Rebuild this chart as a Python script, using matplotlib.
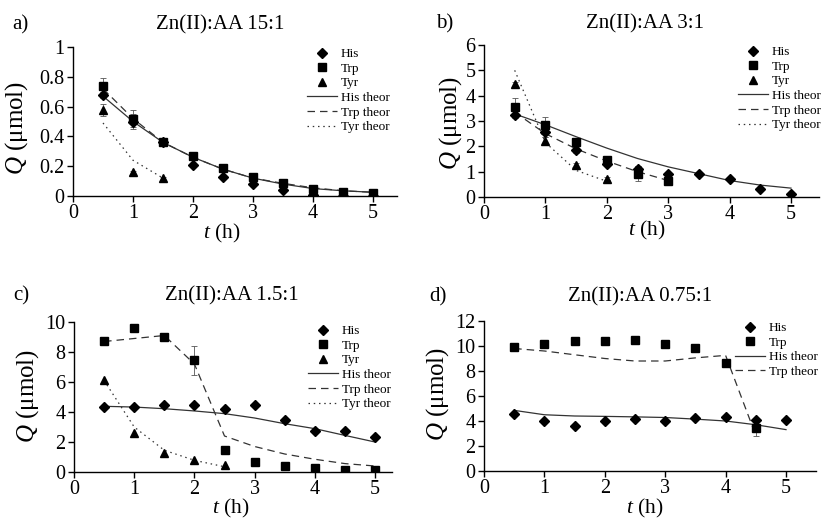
import numpy as np
import matplotlib
matplotlib.use("Agg")
import matplotlib.pyplot as plt

plt.rcParams["font.family"] = ["Liberation Serif", "DejaVu Serif"]
plt.rcParams["mathtext.fontset"] = "custom"
plt.rcParams["mathtext.rm"] = "Liberation Serif"
plt.rcParams["mathtext.it"] = "Liberation Serif:italic"

t = [0.5, 1, 1.5, 2, 2.5, 3, 3.5, 4, 4.5, 5]

# a) Zn(II):AA 15:1
his_a = [0.68, 0.50, 0.36, 0.21, 0.13, 0.08, 0.04, 0.01, 0.0, 0.0]
his_a_err = [0.02, 0.05, 0.01, 0.01, 0.01, 0.01, 0.01, 0.01, 0.0, 0.0]
trp_a = [0.74, 0.52, 0.36, 0.27, 0.19, 0.13, 0.09, 0.05, 0.03, 0.02]
trp_a_err = [0.05, 0.06, 0.01, 0.01, 0.01, 0.01, 0.01, 0.01, 0.01, 0.0]
tyr_a = [0.58, 0.16, 0.12]
tyr_a_err = [0.04, 0.01, 0.01]
his_a_th = [0.67, 0.50, 0.36, 0.26, 0.18, 0.12, 0.08, 0.05, 0.035, 0.025]
trp_a_th = [0.72, 0.52, 0.36, 0.26, 0.18, 0.12, 0.085, 0.055, 0.035, 0.025]
tyr_a_th = [0.49, 0.24, 0.12]

# b) Zn(II):AA 3:1
his_b = [3.23, 2.57, 1.87, 1.32, 1.12, 0.92, 0.90, 0.70, 0.33, 0.13]
his_b_err = [0.1, 0.2, 0.15, 0.1, 0.1, 0.05, 0.05, 0.05, 0.05, 0.05]
trp_b = [3.54, 2.85, 2.18, 1.48, 0.92, 0.62]
trp_b_err = [0.35, 0.3, 0.1, 0.15, 0.3, 0.05]
tyr_b = [4.45, 2.2, 1.25, 0.72]
tyr_b_err = [0.1, 0.15, 0.1, 0.05]
his_b_th = [3.28, 2.85, 2.38, 1.93, 1.52, 1.19, 0.92, 0.65, 0.47, 0.35]
trp_b_th = [3.35, 2.5, 1.9, 1.42, 1.0, 0.65]
tyr_b_th = [5.0, 2.15, 1.05, 0.62]

# c) Zn(II):AA 1.5:1
his_c = [4.33, 4.33, 4.44, 4.44, 4.22, 4.5, 3.49, 2.73, 2.73, 2.33]
trp_c = [8.71, 9.62, 9.0, 7.44, 1.44, 0.67, 0.4, 0.27, 0.16, 0.11]
trp_c_err = [0.1, 0.1, 0.1, 0.95, 0.1, 0.05, 0.05, 0.05, 0.05, 0.05]
tyr_c = [6.16, 2.58, 1.29, 0.78, 0.44]
his_c_th = [4.38, 4.33, 4.22, 4.07, 3.89, 3.6, 3.22, 2.89, 2.44, 2.0]
trp_c_th = [8.7, 8.9, 9.1, 7.2, 2.4, 1.7, 1.2, 0.85, 0.56, 0.4]
tyr_c_th = [6.1, 3.0, 1.45, 0.78, 0.35]

# d) Zn(II):AA 0.75:1
his_d = [4.59, 3.97, 3.57, 4.0, 4.13, 4.03, 4.24, 4.32, 4.05, 4.05]
trp_d = [9.92, 10.19, 10.37, 10.37, 10.5, 10.19, 9.84, 8.67, 3.44]
trp_d_err = [0.1, 0.1, 0.1, 0.1, 0.1, 0.1, 0.1, 0.1, 0.6]
his_d_th = [4.85, 4.5, 4.4, 4.37, 4.33, 4.28, 4.15, 4.0, 3.7, 3.31]
trp_d_th = [9.8, 9.6, 9.3, 9.0, 8.8, 8.8, 9.05, 9.25, 2.85]

W, H = 822, 518
fig = plt.figure(figsize=(W / 100, H / 100), dpi=100)


def make_ax(x0, x5, xend, ybot, ytop, ymax):
    # pixel positions of the axis corners -> figure fraction
    ax = fig.add_axes([x0 / W, 1 - ybot / H, (xend - x0) / W, (ybot - ytop) / H])
    ax.set_xlim(0, 5 * (xend - x0) / (x5 - x0))
    ax.set_ylim(0, ymax)
    ax.spines["top"].set_visible(False)
    ax.spines["right"].set_visible(False)
    for s in ("left", "bottom"):
        ax.spines[s].set_linewidth(1.0)
    ax.set_xticks([0, 1, 2, 3, 4, 5])
    ax.tick_params(direction="out", length=4, width=1.0, labelsize=14.5, pad=2)
    return ax


def pts(ax, x, y, err, marker, ms, label):
    if err is not None:
        ax.errorbar(x, y, yerr=err, fmt="none", ecolor="#555555",
                    elinewidth=0.6, capsize=2, capthick=0.6, zorder=2)
    ax.plot(x, y, marker, color="black", ms=ms, label=label, zorder=3)


def theor(ax, x, y, ls, label):
    ax.plot(x, y, color="#333333", lw=0.9, ls=ls, label=label, zorder=2)


dash = (0, (6, 4))
dot = (0, (1.2, 3))


def labels(ax, x0, xend, ybot, ytop, ylx, yly, xlx, xly):
    w = xend - x0
    h = ybot - ytop
    ax.text((ylx - x0) / w, (ybot - yly) / h, "$Q$ (μmol)", transform=ax.transAxes,
            rotation=90, ha="center", va="center", fontsize=18)
    ax.text((xlx - x0) / w, (ybot - xly) / h, "$t$ (h)", transform=ax.transAxes,
            ha="center", va="center", fontsize=15.5)


def legend(ax, x0, xend, ybot, ytop, right_px, top_px):
    ax.legend(loc="upper right",
              bbox_to_anchor=((right_px - x0) / (xend - x0), (ybot - top_px) / (ybot - ytop)),
              frameon=False, fontsize=9.5, handlelength=2.3, handletextpad=0.3,
              labelspacing=0.18, borderpad=0, borderaxespad=0)


# panel a
ax = make_ax(73, 373, 397, 196, 47, 1.0)
ax.set_yticks([0, 0.2, 0.4, 0.6, 0.8, 1.0])
ax.set_yticklabels(["0", "0.2", "0.4", "0.6", "0.8", "1"])
pts(ax, t, his_a, his_a_err, "D", 5.2, "His")
pts(ax, t, trp_a, trp_a_err, "s", 6, "Trp")
pts(ax, t[:3], tyr_a, tyr_a_err, "^", 6, "Tyr")
theor(ax, t, his_a_th, "-", "His theor")
theor(ax, t, trp_a_th, dash, "Trp theor")
theor(ax, t[:3], tyr_a_th, dot, "Tyr theor")
legend(ax, 73, 397, 196, 47, 390, 48)
labels(ax, 73, 397, 196, 47, 17, 128, 222, 233)

# panel b
ax = make_ax(484, 791, 819, 197, 45, 6)
ax.set_yticks([0, 1, 2, 3, 4, 5, 6])
pts(ax, t, his_b, his_b_err, "D", 5.2, "His")
pts(ax, t[:6], trp_b, trp_b_err, "s", 6, "Trp")
pts(ax, t[:4], tyr_b, tyr_b_err, "^", 6, "Tyr")
theor(ax, t, his_b_th, "-", "His theor")
theor(ax, t[:6], trp_b_th, dash, "Trp theor")
theor(ax, t[:4], tyr_b_th, dot, "Tyr theor")
legend(ax, 484, 819, 197, 45, 821, 46)
labels(ax, 484, 819, 197, 45, 451, 123, 647, 230)

# panel c
ax = make_ax(74, 375, 392, 472, 322, 10)
ax.set_yticks([0, 2, 4, 6, 8, 10])
pts(ax, t, his_c, None, "D", 5.2, "His")
pts(ax, t, trp_c, trp_c_err, "s", 6, "Trp")
pts(ax, t[:5], tyr_c, None, "^", 6, "Tyr")
theor(ax, t, his_c_th, "-", "His theor")
theor(ax, t, trp_c_th, dash, "Trp theor")
theor(ax, t[:5], tyr_c_th, dot, "Tyr theor")
legend(ax, 74, 392, 472, 322, 391, 325)
labels(ax, 74, 392, 472, 322, 28, 396, 231, 508)

# panel d
ax = make_ax(484, 786, 816, 471, 321, 12)
ax.set_yticks([0, 2, 4, 6, 8, 10, 12])
pts(ax, t, his_d, None, "D", 5.2, "His")
pts(ax, t[:9], trp_d, trp_d_err, "s", 6, "Trp")
theor(ax, t, his_d_th, "-", "His theor")
theor(ax, t[:9], trp_d_th, dash, "Trp theor")
legend(ax, 484, 816, 471, 321, 818, 322)
labels(ax, 484, 816, 471, 321, 438, 394, 645, 508)

# titles and panel letters
titles = ["Zn(II):AA 15:1", "Zn(II):AA 3:1", "Zn(II):AA 1.5:1", "Zn(II):AA 0.75:1"]
letters = ["a)", "b)", "c)", "d)"]
title_xy = [(220, 25), (645, 24), (232, 296), (640, 297)]
letter_xy = [(12, 25), (436, 24), (13, 296), (429, 297)]
for txt, (x, y) in zip(titles, title_xy):
    fig.text(x / W, 1 - y / H, txt, ha="center", va="center", fontsize=15)
for txt, (x, y) in zip(letters, letter_xy):
    fig.text(x / W, 1 - y / H, txt, ha="left", va="center", fontsize=15)

fig.savefig("out.png", dpi=100)
